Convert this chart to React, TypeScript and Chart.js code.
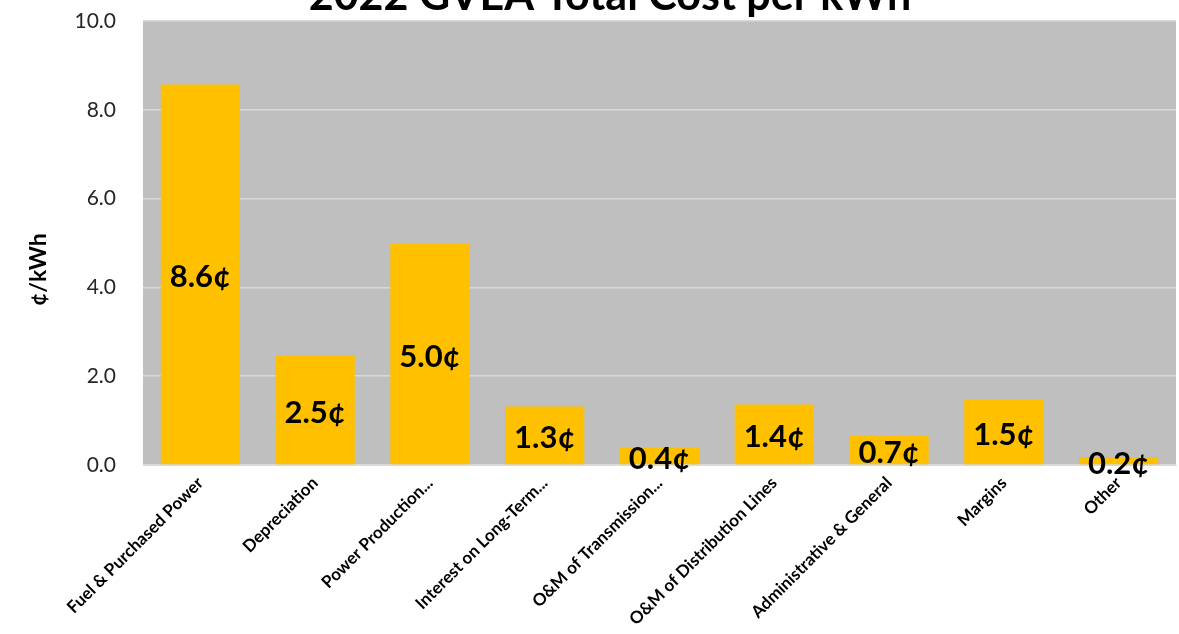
import React, { useEffect, useRef } from "react";
import { Chart, registerables } from "chart.js";

Chart.register(...registerables);

const categories = [
  "Fuel & Purchased Power",
  "Depreciation",
  "Power Production...",
  "Interest on Long-Term...",
  "O&M of Transmission...",
  "O&M of Distribution Lines",
  "Administrative & General",
  "Margins",
  "Other",
];
const costValues = [8.57, 2.48, 4.98, 1.32, 0.39, 1.36, 0.66, 1.48, 0.18];
const valueLabels = ["8.6¢", "2.5¢", "5.0¢", "1.3¢", "0.4¢", "1.4¢", "0.7¢", "1.5¢", "0.2¢"];
const titleText = "2022 GVEA Total Cost per kWh";
const yAxisTitle = "¢/kWh";

const FONT = "Lato, 'Open Sans', sans-serif";

export default function App() {
  const ref = useRef<HTMLCanvasElement>(null);

  useEffect(() => {
    if (!ref.current) return;

    const plotBg = {
      id: "plotBg",
      beforeDraw(chart: any) {
        const { ctx, chartArea } = chart;
        ctx.save();
        ctx.fillStyle = "#BFBFBF";
        ctx.fillRect(chartArea.left, chartArea.top, chartArea.right - chartArea.left, chartArea.bottom - chartArea.top);
        ctx.restore();
      },
    };

    const labelsPlugin = {
      id: "valueLabels",
      afterDatasetsDraw(chart: any) {
        const { ctx } = chart;
        const meta = chart.getDatasetMeta(0);
        ctx.save();
        ctx.font = `bold 31px ${FONT}`;
        ctx.fillStyle = "#000000";
        ctx.textAlign = "center";
        ctx.textBaseline = "middle";
        meta.data.forEach((bar: any, i: number) => {
          const y = (bar.y + bar.base) / 2;
          ctx.fillText(valueLabels[i], bar.x, y + 3);
        });
        ctx.restore();
      },
    };

    const titlePlugin = {
      id: "cutTitle",
      afterDraw(chart: any) {
        const { ctx, chartArea } = chart;
        ctx.save();
        ctx.font = `bold 43px ${FONT}`;
        ctx.fillStyle = "#000000";
        ctx.textAlign = "center";
        ctx.textBaseline = "alphabetic";
        ctx.fillText(titleText, 610, 10);
        ctx.restore();

        // y-axis title, drawn vertically
        ctx.save();
        ctx.font = `bold 23px ${FONT}`;
        ctx.fillStyle = "#000000";
        ctx.textAlign = "center";
        ctx.textBaseline = "middle";
        const cy = chartArea.top + (chartArea.bottom - chartArea.top) * 0.56;
        ctx.translate(39, cy);
        ctx.rotate(-Math.PI / 2);
        ctx.fillText(yAxisTitle, 0, 0);
        ctx.restore();
      },
    };

    const chart = new Chart(ref.current, {
      type: "bar",
      data: {
        labels: categories,
        datasets: [
          {
            data: costValues,
            backgroundColor: "#FFC000",
            barPercentage: 0.69,
            categoryPercentage: 1,
          },
        ],
      },
      options: {
        responsive: false,
        animation: false,
        layout: { padding: { top: 21, right: 3, left: 0, bottom: 0 } },
        plugins: {
          legend: { display: false },
          tooltip: { enabled: false },
          title: { display: false },
        },
        scales: {
          x: {
            grid: { display: false, drawTicks: false },
            border: { display: true, color: "#D9D9D9", width: 1 },
            ticks: {
              autoSkip: false,
              maxRotation: 45,
              minRotation: 45,
              padding: 8,
              color: "#000000",
              font: { family: FONT, size: 17, weight: "bold" },
            },
            afterFit(scale: any) {
              scale.height = 169;
            },
          },
          y: {
            min: 0,
            max: 10,
            ticks: {
              stepSize: 2,
              padding: 3,
              color: "#262626",
              font: { family: FONT, size: 21 },
              callback: (v: any) => Number(v).toFixed(1),
            },
            grid: {
              color: "#D9D9D9",
              lineWidth: 1.5,
              drawTicks: true,
              tickLength: 24,
              tickColor: "rgba(0,0,0,0)",
            },
            border: { display: false },
            title: { display: false },
            afterFit(scale: any) {
              scale.width = 143;
            },
          },
        },
      },
      plugins: [plotBg, labelsPlugin, titlePlugin],
    });

    return () => chart.destroy();
  }, []);

  return (
    <div style={{ position: "fixed", left: 0, top: 0, width: 1179, height: 634, background: "#fff" }}>
      <canvas ref={ref} width={1179} height={634} style={{ display: "block" }} />
    </div>
  );
}
